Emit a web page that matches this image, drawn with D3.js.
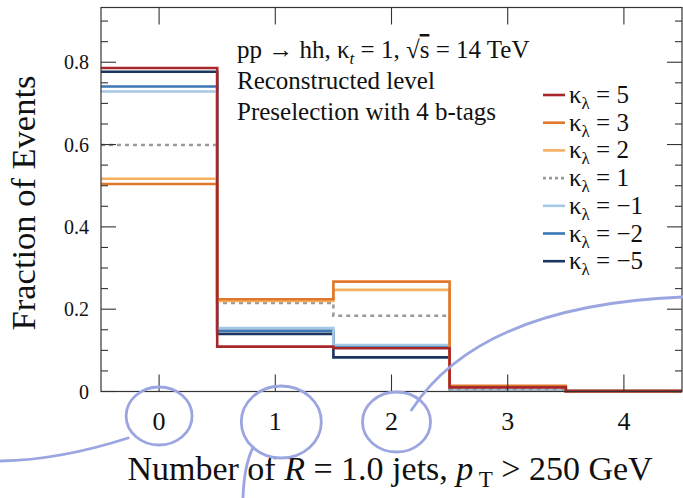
<!DOCTYPE html>
<html>
<head>
<meta charset="utf-8">
<script src="https://cdn.jsdelivr.net/npm/d3@7"></script>
<style>
  body { margin: 0; background: #fff; }
  svg { display: block; font-family: "Liberation Serif", "Times New Roman", serif; }
</style>
</head>
<body>
<div id="chart"></div>
<script>
// bins: number of large-R jets
var bins = [0, 1, 2, 3, 4]
var kappaLabels = ['5', '3', '2', '1', '\u22121', '\u22122', '\u22125']
var seriesColors = ['#a8282a', '#e0782a', '#f5b062', '#9a9a9a', '#a7c8e4', '#3b76b5', '#1c355e']

// fraction of events per bin, one array per kappa_lambda
var k5 = [0.786, 0.109, 0.105, 0.010, 0.001]
var k3 = [0.504, 0.224, 0.267, 0.014, 0.001]
var k2 = [0.517, 0.220, 0.247, 0.012, 0.001]
var k1 = [0.599, 0.215, 0.184, 0.006, 0.001]
var km1 = [0.729, 0.154, 0.113, 0.006, 0.001]
var km2 = [0.741, 0.148, 0.111, 0.006, 0.001]
var km5 = [0.777, 0.140, 0.083, 0.006, 0.001]
var series = [k5, k3, k2, k1, km1, km2, km5]

var yTicks = [0, 0.2, 0.4, 0.6, 0.8]

var width = 683, height = 498
var margin = {top: 7.5, right: 1, bottom: 106.5, left: 101}

var svg = d3.select('#chart').append('svg')
  .attr('width', width)
  .attr('height', height)

var x = d3.scaleLinear().domain([-0.5, 4.5]).range([margin.left, width - margin.right])
var y = d3.scaleLinear().domain([0, 0.933]).range([height - margin.bottom, margin.top])

var axisColor = '#333'

// histograms, drawn so kappa=5 ends on top
var line = d3.line()
  .x(function(d) { return x(d[0]) })
  .y(function(d) { return y(d[1]) })
  .curve(d3.curveStepAfter)

d3.range(series.length).reverse().forEach(function(i) {
  var vals = series[i]
  var pts = bins.map(function(b, j) { return [b - 0.5, vals[j]] })
  pts.push([bins[bins.length - 1] + 0.5, vals[vals.length - 1]])
  svg.append('path')
    .attr('d', line(pts))
    .attr('fill', 'none')
    .attr('stroke', seriesColors[i])
    .attr('stroke-width', 2.6)
    .attr('stroke-dasharray', kappaLabels[i] == '1' ? '4,4' : null)
})

// frame
var x0 = x.range()[0], x1 = x.range()[1], y0 = y.range()[0], y1 = y.range()[1]
svg.append('rect')
  .attr('x', x0).attr('y', y1)
  .attr('width', x1 - x0).attr('height', y0 - y1)
  .attr('fill', 'none').attr('stroke', axisColor).attr('stroke-width', 1.2)

// y ticks (left and right, inward)
var minor = d3.range(0, 0.931, 0.05)
var g = svg.append('g').attr('stroke', axisColor).attr('stroke-width', 1.1)
minor.forEach(function(v) {
  var isMajor = Math.abs(v * 5 - Math.round(v * 5)) < 1e-6
  var len = isMajor ? 15 : 7
  g.append('line').attr('x1', x0).attr('x2', x0 + len).attr('y1', y(v)).attr('y2', y(v))
  g.append('line').attr('x1', x1).attr('x2', x1 - len).attr('y1', y(v)).attr('y2', y(v))
})
// x ticks (bottom and top, inward)
bins.forEach(function(b) {
  g.append('line').attr('x1', x(b)).attr('x2', x(b)).attr('y1', y0).attr('y2', y0 - 17)
  g.append('line').attr('x1', x(b)).attr('x2', x(b)).attr('y1', y1).attr('y2', y1 + 17)
})

// tick labels
svg.append('g').selectAll('text').data(yTicks).enter().append('text')
  .attr('x', 89).attr('y', function(d) { return y(d) + 7 })
  .attr('text-anchor', 'end').attr('font-size', 20).attr('fill', '#111')
  .text(function(d) { return d == 0 ? '0' : d3.format('.1f')(d) })

svg.append('g').selectAll('text').data(bins).enter().append('text')
  .attr('x', function(d) { return x(d) }).attr('y', 430)
  .attr('text-anchor', 'middle').attr('font-size', 26).attr('fill', '#111')
  .text(function(d) { return d })

// axis titles
svg.append('text')
  .attr('transform', 'translate(35,' + 203 + ') rotate(-90)')
  .attr('text-anchor', 'middle').attr('font-size', 34.5).attr('fill', '#111')
  .text('Fraction of Events')

var xt = svg.append('text')
  .attr('x', 390).attr('y', 480)
  .attr('text-anchor', 'middle').attr('font-size', 34).attr('fill', '#111')
xt.append('tspan').text('Number of ')
xt.append('tspan').attr('font-style', 'italic').text('R')
xt.append('tspan').text(' = 1.0 jets, ')
xt.append('tspan').attr('font-style', 'italic').text('p')
xt.append('tspan').attr('font-size', 23).attr('dy', 7).text(' T')
xt.append('tspan').attr('dy', -7).text(' > 250 GeV')

// info text
var info = svg.append('g').attr('font-size', 25).attr('fill', '#111')
var t1 = info.append('text').attr('x', 237).attr('y', 58)
t1.append('tspan').text('pp \u2192 hh, \u03ba')
t1.append('tspan').attr('font-size', 17).attr('font-style', 'italic').attr('dy', 6).text('t')
t1.append('tspan').attr('dy', -6).text(' = 1,  \u221a')
t1.append('tspan').style('text-decoration', 'overline').text('s')
t1.append('tspan').text(' = 14 TeV')
info.append('text').attr('x', 237).attr('y', 89).text('Reconstructed level')
info.append('text').attr('x', 237).attr('y', 120).text('Preselection with 4 b-tags')

// legend
var leg = svg.append('g')
kappaLabels.forEach(function(k, i) {
  var ly = 95 + i * 27.7
  leg.append('line')
    .attr('x1', 543).attr('x2', 565).attr('y1', ly).attr('y2', ly)
    .attr('stroke', seriesColors[i]).attr('stroke-width', 2.6)
    .attr('stroke-dasharray', k == '1' ? '3,3' : null)
  var t = leg.append('text').attr('x', 569).attr('y', ly + 8).attr('font-size', 25).attr('fill', '#111')
  t.append('tspan').text('\u03ba')
  t.append('tspan').attr('font-size', 17).attr('dy', 6).text('\u03bb')
  t.append('tspan').attr('dy', -6).text(' = ' + k)
})

// hand-drawn annotations around tick labels
var pen = '#9ba6e1'
var ann = svg.append('g').attr('fill', 'none').attr('stroke', pen).attr('stroke-width', 2.8)
  .attr('stroke-linecap', 'round')
ann.append('ellipse').attr('cx', x(0)).attr('cy', 416).attr('rx', 33).attr('ry', 29)
ann.append('ellipse').attr('cx', x(1) + 6).attr('cy', 422).attr('rx', 40).attr('ry', 36)
ann.append('ellipse').attr('cx', x(2) + 5).attr('cy', 422).attr('rx', 34).attr('ry', 30)
ann.append('path').attr('d', 'M' + (x(0) - 31) + ',438 Q60,460 0,461')
ann.append('path').attr('d', 'M' + (x(1) - 22) + ',447 Q244,465 243,498')
ann.append('path').attr('d', 'M' + (x(2) + 20) + ',410 Q480,305 683,297')
</script>
</body>
</html>
